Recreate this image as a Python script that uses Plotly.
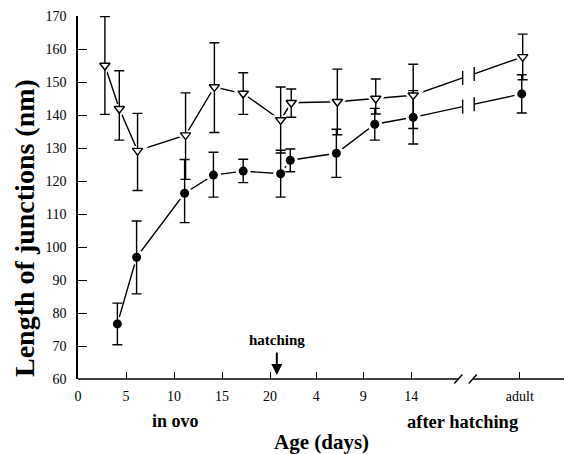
import plotly.graph_objects as go

# ---------------- data ----------------
# x positions on the axis scale: in-ovo days 0..21, post-hatch day d at 21+d, adult at far right
tri_x = [2.8, 4.3, 6.2, 11.2, 14.2, 17.2, 21.1, 22.2, 27.0, 31.0, 34.9, 46.3]
tri_y = [155.0, 141.9, 129.2, 133.9, 148.5, 146.5, 138.5, 143.7, 144.0, 145.0, 146.0, 157.6]
tri_up = [14.8, 11.5, 11.3, 12.8, 13.4, 6.3, 10.0, 4.2, 9.9, 5.9, 9.4, 6.9]
tri_dn = [14.8, 9.5, 12.1, 13.4, 13.8, 6.3, 10.0, 4.4, 10.0, 4.7, 10.1, 6.9]

dot_x = [4.1, 6.1, 11.1, 14.1, 17.2, 21.1, 22.1, 26.9, 30.9, 34.9, 46.2]
dot_y = [76.7, 96.9, 116.3, 121.8, 123.0, 122.2, 126.3, 128.4, 137.2, 139.3, 146.4]
dot_up = [6.3, 11.0, 10.2, 6.9, 3.6, 7.1, 3.4, 7.3, 4.8, 8.1, 5.8]
dot_dn = [6.3, 11.1, 8.9, 6.7, 3.5, 7.1, 3.5, 7.3, 4.8, 8.1, 5.8]

tick_pos = [0, 5, 10, 15, 20, 24.8, 29.7, 34.7, 46.0]
tick_text = ["0", "5", "10", "15", "20", "4", "9", "14", "adult"]

y_ticks = list(range(60, 171, 10))

X_RANGE = [0, 50.6]
Y_RANGE = [60, 170]
AXIS_BREAK = (39.6, 41.1)   # where the x axis line is interrupted
DATA_BREAK = (40.05, 41.25)  # where the data lines are interrupted
HATCH_X = 20.7

FONT = "Liberation Serif"
W, H = 564, 454
ML, MR, MT, MB = 78, 0, 16, 75
PH = H - MT - MB


def py(p):
    """pixel row -> paper y"""
    return (H - MB - p) / PH


def interp(x0, y0, x1, y1, x):
    return y0 + (y1 - y0) * (x - x0) / (x1 - x0)


def broken_line(xs, ys):
    bl, br = DATA_BREAK
    yl = interp(xs[-2], ys[-2], xs[-1], ys[-1], bl)
    yr = interp(xs[-2], ys[-2], xs[-1], ys[-1], br)
    lx = xs[:-1] + [bl, None, br, xs[-1]]
    ly = ys[:-1] + [yl, None, yr, ys[-1]]
    return lx, ly, [bl, br], [yl, yr]


fig = go.Figure()

LW = 1.4
for xs, ys in [(tri_x, tri_y), (dot_x, dot_y)]:
    lx, ly, bx, by = broken_line(xs, ys)
    fig.add_trace(go.Scatter(x=lx, y=ly, mode="lines", connectgaps=False,
                             line=dict(color="black", width=LW), hoverinfo="skip"))
    fig.add_trace(go.Scatter(x=bx, y=by, mode="markers", hoverinfo="skip",
                             marker=dict(symbol="line-ns", size=10,
                                         line=dict(color="black", width=LW))))

# white halos so lines stop short of the markers
fig.add_trace(go.Scatter(x=tri_x, y=tri_y, mode="markers", hoverinfo="skip",
                         marker=dict(symbol="triangle-down", size=19, color="white",
                                     line=dict(width=0))))
fig.add_trace(go.Scatter(x=dot_x, y=dot_y, mode="markers", hoverinfo="skip",
                         marker=dict(symbol="circle", size=15, color="white",
                                     line=dict(width=0))))

# markers with error bars
fig.add_trace(go.Scatter(
    x=dot_x, y=dot_y, mode="markers",
    marker=dict(symbol="circle", size=9, color="black", line=dict(width=0)),
    error_y=dict(type="data", symmetric=False, array=dot_up, arrayminus=dot_dn,
                 color="black", thickness=LW, width=5)))
fig.add_trace(go.Scatter(
    x=tri_x, y=tri_y, mode="markers",
    marker=dict(symbol="triangle-down", size=9, color="white",
                line=dict(color="black", width=1.4)),
    error_y=dict(type="data", symmetric=False, array=tri_up, arrayminus=tri_dn,
                 color="black", thickness=LW, width=5)))

# x-axis line drawn in two pieces with a break
shapes = [
    dict(type="line", xref="x", yref="paper", x0=X_RANGE[0], x1=AXIS_BREAK[0], y0=0, y1=0,
         line=dict(color="black", width=1.5)),
    dict(type="line", xref="x", yref="paper", x0=AXIS_BREAK[1], x1=X_RANGE[1], y0=0, y1=0,
         line=dict(color="black", width=1.5)),
]
for bx in AXIS_BREAK:
    shapes.append(dict(type="line", xref="x", yref="paper",
                       xsizemode="pixel", ysizemode="pixel",
                       xanchor=bx, yanchor=0, x0=-4, x1=4, y0=-4.5, y1=4.5,
                       line=dict(color="black", width=1.4)))


def ann(text, x, y, size, xref="x", **kw):
    d = dict(text=text, xref=xref, yref="paper", x=x, y=y, xanchor="center",
             yanchor="middle", showarrow=False,
             font=dict(family=FONT, size=size, color="black"))
    d.update(kw)
    return d


annotations = [
    ann("<b>hatching</b>", HATCH_X, py(340), 15),
    dict(text="", xref="x", yref="paper", x=HATCH_X, y=py(375), ax=0, ay=-24,
         showarrow=True, arrowhead=2, arrowsize=1.1, arrowwidth=2, arrowcolor="black"),
    ann("<b>in ovo</b>", 10.1, py(421), 18),
    ann("<b>after hatching</b>", 40.1, py(422), 18.5),
    ann("<b>Age (days)</b>", 0.5, py(442), 21, xref="paper"),
    ann("<b>Length of junctions (nm)</b>", 0, py(228), 28, xref="paper",
        xshift=24 - ML, textangle=-90),
]

fig.update_layout(
    width=W, height=H,
    margin=dict(l=ML, r=MR, t=MT, b=MB, pad=0),
    paper_bgcolor="white", plot_bgcolor="white",
    showlegend=False,
    shapes=shapes, annotations=annotations,
    font=dict(family=FONT, size=14, color="black"),
)
fig.update_xaxes(range=X_RANGE, showgrid=False, zeroline=False, showline=False,
                 tickmode="array", tickvals=tick_pos, ticktext=tick_text,
                 ticks="inside", ticklen=7, tickwidth=1.3, tickcolor="black",
                 ticklabelstandoff=7,
                 tickfont=dict(family=FONT, size=14, color="black"))
fig.update_yaxes(range=Y_RANGE, showgrid=False, zeroline=False, showline=True,
                 linecolor="black", linewidth=1.5,
                 tickmode="array", tickvals=y_ticks,
                 ticks="inside", ticklen=9, tickwidth=1.3, tickcolor="black",
                 ticklabelstandoff=7,
                 tickfont=dict(family=FONT, size=14, color="black"))

fig.write_html("out.html")
